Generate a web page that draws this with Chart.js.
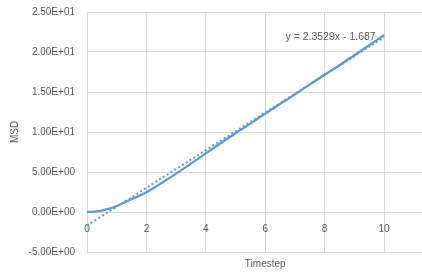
<!DOCTYPE html>
<html>
<head>
<meta charset="utf-8">
<script src="https://cdn.jsdelivr.net/npm/chart.js@4/dist/chart.umd.min.js"></script>
<style>
  html, body { margin: 0; padding: 0; background: #fff; overflow: hidden; }
  #wrap { width: 422px; height: 275px; overflow: hidden; }
</style>
</head>
<body>
<div id="wrap"><canvas id="msdChart" width="460" height="275"></canvas></div>
<script>
// data
const timesteps = [0, 0.25, 0.5, 0.75, 1, 1.5, 2, 2.5, 3, 3.5, 4, 4.5, 5, 5.5, 6, 6.5, 7, 7.5, 8, 8.5, 9, 9.5, 10];
const msdValues = [0, 0.05, 0.18, 0.42, 0.75, 1.6, 2.47, 3.6, 4.8, 6.05, 7.33, 8.6, 9.85, 11.05, 12.3, 13.5, 14.7, 15.95, 17.15, 18.35, 19.6, 20.85, 22.1];

// linear trendline (from the equation in the chart)
const trendSlope = 2.3529;
const trendIntercept = -1.687;
const trendRange = [0, 10];
const trendLabel = 'y = 2.3529x - 1.687';

const yTicks = [-5, 0, 5, 10, 15, 20, 25];
const yTickLabels = ['-5.00E+00', '0.00E+00', '5.00E+00', '1.00E+01', '1.50E+01', '2.00E+01', '2.50E+01'];
const xTicks = [0, 2, 4, 6, 8, 10, 12];

const BLUE = '#5B9BD5';
const GRID = '#D9D9D9';
const TEXT = '#595959';
const FONT = { family: '"Liberation Sans", Arial, sans-serif', size: 10 };

// trendline equation label
const trendLabelPlugin = {
    id: 'trendLabel',
    afterDatasetsDraw(chart) {
        const { ctx, scales } = chart;
        const px = scales.x.getPixelForValue(8.2);
        const py = scales.y.getPixelForValue(21.8);
        ctx.save();
        ctx.font = '10.5px "Liberation Sans", Arial, sans-serif';
        ctx.fillStyle = TEXT;
        ctx.textAlign = 'center';
        ctx.textBaseline = 'middle';
        ctx.fillText(trendLabel, px, py);
        ctx.restore();
    }
};

const noPad = s => { s.paddingTop = 0; s.paddingBottom = 0; };

const msdPoints = timesteps.map((t, i) => ({ x: t, y: msdValues[i] }));
const trendPoints = trendRange.map(t => ({ x: t, y: trendSlope * t + trendIntercept }));

new Chart(document.getElementById('msdChart').getContext('2d'), {
    type: 'scatter',
    data: {
        datasets: [
            {
                label: 'Linear',
                data: trendPoints,
                showLine: true,
                borderColor: BLUE,
                borderWidth: 2,
                borderDash: [2, 2.5],
                pointRadius: 0,
                order: 0
            },
            {
                label: 'MSD',
                data: msdPoints,
                showLine: true,
                borderColor: BLUE,
                borderWidth: 2.25,
                cubicInterpolationMode: 'monotone',
                pointRadius: 0,
                order: 1
            }
        ]
    },
    options: {
        responsive: false,
        animation: false,
        devicePixelRatio: 1,
        layout: { padding: { top: 12, left: 5, right: 12, bottom: 1 } },
        plugins: { legend: { display: false }, tooltip: { enabled: false } },
        scales: {
            y: {
                type: 'linear',
                position: 'left',
                min: -5,
                max: 25,
                afterBuildTicks: s => { s.ticks = yTicks.map(v => ({ value: v })); },
                afterFit: s => { s.width = 82; noPad(s); },
                grid: { color: GRID, drawTicks: false },
                border: { display: false },
                ticks: {
                    color: TEXT,
                    font: FONT,
                    padding: 12,
                    callback: (v) => yTickLabels[yTicks.indexOf(v)]
                },
                title: { display: true, text: 'MSD', color: TEXT, font: FONT, padding: 4 }
            },
            x: {
                type: 'linear',
                position: { y: 0 },
                min: 0,
                max: 12,
                afterBuildTicks: s => { s.ticks = xTicks.map(v => ({ value: v })); },
                afterFit: noPad,
                grid: { color: GRID, drawTicks: false },
                border: { display: false },
                ticks: { color: TEXT, font: FONT, padding: 11, maxRotation: 0 }
            },
            x2: {
                type: 'linear',
                position: 'bottom',
                min: 0,
                max: 12,
                grid: { display: false, drawTicks: false },
                border: { display: false },
                ticks: { display: false },
                title: { display: true, text: 'Timestep', color: TEXT, font: FONT, padding: { top: 6, bottom: 4 } }
            }
        }
    },
    plugins: [trendLabelPlugin]
});
</script>
</body>
</html>
